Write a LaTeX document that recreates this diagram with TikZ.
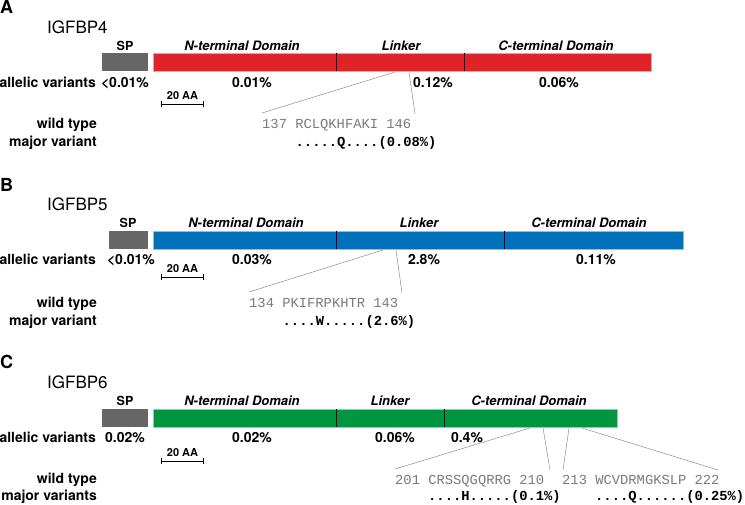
\documentclass[tikz,border=0pt]{standalone}
\usepackage{fontspec}
\setmainfont{TeX Gyre Heros}
\setmonofont{Liberation Mono}
\usepackage{xcolor}
\usetikzlibrary{arrows.meta}
\definecolor{sp-gray}{HTML}{666666}
\definecolor{bp4-red}{HTML}{E02328}
\definecolor{bp5-blue}{HTML}{0070BA}
\definecolor{bp6-green}{HTML}{009640}
\definecolor{seq-gray}{HTML}{7A7A7A}
\definecolor{zoom-gray}{HTML}{8C8C8C}

\begin{document}
\begin{tikzpicture}[x=1pt, y=-1pt,
    every node/.style={inner sep=0pt, font=\fontsize{14}{16}\selectfont\bfseries},
    panel/.style={anchor=base west, font=\fontsize{18}{20}\selectfont\bfseries},
    protein/.style={anchor=base west, font=\fontsize{17}{19}\selectfont},
    domlabel/.style={anchor=base, font=\fontsize{13}{15}\selectfont\bfseries\itshape},
    splabel/.style={anchor=base, font=\fontsize{12.5}{15}\selectfont\bfseries},
    rowlabel/.style={anchor=base east},
    freq/.style={anchor=base},
    spbox/.style={fill=sp-gray, anchor=north west, minimum height=18pt},
    barbox/.style={fill=#1, draw=#1!45, line width=0.6pt, anchor=north west, minimum height=18pt},
    divider/.style={line width=0.9pt, black},
    scalebar/.style={line width=0.8pt, {Bar[width=6pt]}-{Bar[width=6pt]}},
    scalelabel/.style={anchor=base, font=\fontsize{11}{13}\selectfont\bfseries},
    seqtext/.style={anchor=base west, text=seq-gray, font=\fontsize{13.8}{16}\selectfont\ttfamily},
    vartext/.style={anchor=base west, font=\fontsize{13.8}{16}\selectfont\ttfamily\bfseries},
    zoomline/.style={zoom-gray, line width=0.5pt}]
  \useasboundingbox (0,0) rectangle (745,504);

  % A: IGFBP4
  \node[panel] (labA) at (0,13) {A};
  \node[protein] (nameA) at (47,33) {IGFBP4};
  \node[splabel] (spA-lab) at (125,50) {SP};
  \node[domlabel] (ntA-lab) at (242,50) {N-terminal Domain};
  \node[domlabel] (lkA-lab) at (401,50) {Linker};
  \node[domlabel] (ctA-lab) at (556,50) {C-terminal Domain};
  \node[spbox, minimum width=46pt] (spA) at (102,53) {};
  \node[barbox=bp4-red, minimum width=498pt] (barA) at (153,53) {};
  \draw[divider] (336,53) -- (336,71);
  \draw[divider] (464,53) -- (464,71);
  \node[rowlabel] (avA) at (96,87) {allelic variants};
  \node[freq] (fA1) at (125,87) {<0.01\%};
  \node[freq] (fA2) at (252,87) {0.01\%};
  \node[freq] (fA3) at (433,87) {0.12\%};
  \node[freq] (fA4) at (559,87) {0.06\%};
  \coordinate (sbA1) at (161,104);
  \coordinate (sbA2) at (204,104);
  \draw[scalebar] (sbA1) -- (sbA2);
  \node[scalelabel] (sbA) at (182.5,99) {20 AA};
  \node[rowlabel] (wtA) at (97,128) {wild type};
  \node[rowlabel] (mvA) at (97,146) {major variant};
  \node[seqtext] (seqA) at (262,128) {137 RCLQKHFAKI 146};
  \node[vartext] (varA) at (295.5,146) {.....Q....(0.08\%)};
  \coordinate (zA1) at (395,72);
  \coordinate (zA2) at (262,113);
  \coordinate (zA3) at (409,72);
  \coordinate (zA4) at (415,114);
  \draw[zoomline] (zA1) -- (zA2);
  \draw[zoomline] (zA3) -- (zA4);

  % B: IGFBP5
  \node[panel] (labB) at (0,191) {B};
  \node[protein] (nameB) at (47,210) {IGFBP5};
  \node[splabel] (spB-lab) at (128,227) {SP};
  \node[domlabel] (ntB-lab) at (246,227) {N-terminal Domain};
  \node[domlabel] (lkB-lab) at (419,227) {Linker};
  \node[domlabel] (ctB-lab) at (589,227) {C-terminal Domain};
  \node[spbox, minimum width=39pt] (spB) at (109,231) {};
  \node[barbox=bp5-blue, minimum width=530pt] (barB) at (153,231) {};
  \draw[divider] (336,231) -- (336,249);
  \draw[divider] (504,231) -- (504,249);
  \node[rowlabel] (avB) at (96,264) {allelic variants};
  \node[freq] (fB1) at (131,264) {<0.01\%};
  \node[freq] (fB2) at (252,264) {0.03\%};
  \node[freq] (fB3) at (424,264) {2.8\%};
  \node[freq] (fB4) at (596,264) {0.11\%};
  \coordinate (sbB1) at (161,277);
  \coordinate (sbB2) at (204,277);
  \draw[scalebar] (sbB1) -- (sbB2);
  \node[scalelabel] (sbB) at (182.5,272) {20 AA};
  \node[rowlabel] (wtB) at (97,307) {wild type};
  \node[rowlabel] (mvB) at (97,325) {major variant};
  \node[seqtext] (seqB) at (249,307) {134 PKIFRPKHTR 143};
  \node[vartext] (varB) at (282.5,325) {....W.....(2.6\%)};
  \coordinate (zB1) at (383,250);
  \coordinate (zB2) at (249,292);
  \coordinate (zB3) at (396,250);
  \coordinate (zB4) at (402,293);
  \draw[zoomline] (zB1) -- (zB2);
  \draw[zoomline] (zB3) -- (zB4);

  % C: IGFBP6
  \node[panel] (labC) at (0,368) {C};
  \node[protein] (nameC) at (47,388) {IGFBP6};
  \node[splabel] (spC-lab) at (125,405) {SP};
  \node[domlabel] (ntC-lab) at (242,405) {N-terminal Domain};
  \node[domlabel] (lkC-lab) at (390,405) {Linker};
  \node[domlabel] (ctC-lab) at (529,405) {C-terminal Domain};
  \node[spbox, minimum width=46pt] (spC) at (102,409) {};
  \node[barbox=bp6-green, minimum width=464pt] (barC) at (153,409) {};
  \draw[divider] (336,409) -- (336,427);
  \draw[divider] (444,409) -- (444,427);
  \node[rowlabel] (avC) at (96,442) {allelic variants};
  \node[freq] (fC1) at (125,442) {0.02\%};
  \node[freq] (fC2) at (252,442) {0.02\%};
  \node[freq] (fC3) at (395,442) {0.06\%};
  \node[freq] (fC4) at (467,442) {0.4\%};
  \coordinate (sbC1) at (161,461);
  \coordinate (sbC2) at (204,461);
  \draw[scalebar] (sbC1) -- (sbC2);
  \node[scalelabel] (sbC) at (182.5,456) {20 AA};
  \node[rowlabel] (wtC) at (97,483) {wild type};
  \node[rowlabel] (mvC) at (97,500) {major variants};
  \node[seqtext] (seqC1) at (395,484) {201 CRSSQGQRRG 210};
  \node[seqtext] (seqC2) at (562,484) {213 WCVDRMGKSLP 222};
  \node[vartext] (varC1) at (428,500) {....H.....(0.1\%)};
  \node[vartext] (varC2) at (595,500) {....Q......(0.25\%)};
  \coordinate (zC1) at (530,428);
  \coordinate (zC2) at (395,469);
  \coordinate (zC3) at (543,428);
  \coordinate (zC4) at (550,470);
  \coordinate (zC5) at (569,428);
  \coordinate (zC6) at (563,470);
  \coordinate (zC7) at (582,428);
  \coordinate (zC8) at (718,470);
  \draw[zoomline] (zC1) -- (zC2);
  \draw[zoomline] (zC3) -- (zC4);
  \draw[zoomline] (zC5) -- (zC6);
  \draw[zoomline] (zC7) -- (zC8);
\end{tikzpicture}
\end{document}
